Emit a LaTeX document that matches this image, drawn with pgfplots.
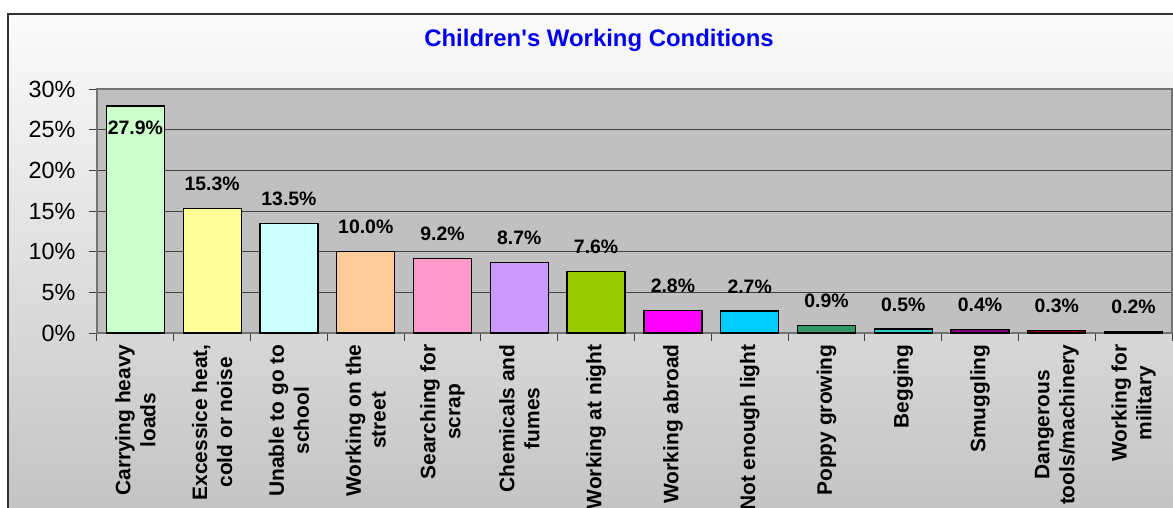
\documentclass[border=0pt]{standalone}
\usepackage{fontspec}
\setmainfont{Liberation Sans}
\usepackage{pgfplots}
\pgfplotsset{compat=1.18}
\definecolor{c1}{HTML}{CCFFCC}
\definecolor{c2}{HTML}{FFFF99}
\definecolor{c3}{HTML}{CCFFFF}
\definecolor{c4}{HTML}{FFCC99}
\definecolor{c5}{HTML}{FF99CC}
\definecolor{c6}{HTML}{CC99FF}
\definecolor{c7}{HTML}{99CC00}
\definecolor{c8}{HTML}{FF00FF}
\definecolor{c9}{HTML}{00CCFF}
\definecolor{c10}{HTML}{339966}
\definecolor{c11}{HTML}{33CCCC}
\definecolor{c12}{HTML}{800080}
\definecolor{c13}{HTML}{800000}
\definecolor{c14}{HTML}{008080}
\definecolor{bgtop}{HTML}{FBFBFB}
\definecolor{bgbot}{HTML}{C0C0C0}
\definecolor{plotbg}{HTML}{C0C0C0}
\definecolor{titleblue}{HTML}{0000F0}
\pgfplotsset{
  lab/.style={nodes near coords style={yshift=#1}},
  bb/.style={fill=#1, draw=black, line width=1.3bp},
}
\begin{document}
\begin{tikzpicture}
\path[use as bounding box] (-97bp,-175bp) rectangle (1076bp,333bp);
\clip (-97bp,-175bp) rectangle (1076bp,333bp);
\shade[top color=bgtop, bottom color=bgbot] (-89bp,319bp) rectangle (1110bp,-210bp);
\draw[black!80, line width=2bp] (-89bp,-210bp) -- (-89bp,319bp) -- (1110bp,319bp);
\node[font=\fontsize{24}{28}\selectfont\bfseries, text=titleblue] at (502bp,293bp) {Children\textquotesingle s Working Conditions};
\begin{axis}[
  at={(0bp,0bp)}, anchor=south west,
  scale only axis, width=1075bp, height=244bp,
  ybar, bar width=58bp, bar shift=0pt,
  xmin=0, xmax=14, ymin=0, ymax=30, enlargelimits=false,
  xtick={0,1,...,14}, x tick label as interval,
  xticklabels={{Carrying heavy\\loads},{Excessice heat,\\cold or noise},{Unable to go to\\school},{Working on the\\street},{Searching for\\scrap},{Chemicals and\\fumes},{Working at night},{Working abroad},{Not enough light},{Poppy growing},{Begging},{Smuggling},{Dangerous\\tools/machinery},{Working for\\military}},
  ytick={0,5,...,30}, yticklabel={\pgfmathprintnumber{\tick}\%},
  /pgf/number format/assume math mode=true,
  ymajorgrids, grid style={draw=black!75, line width=1bp},
  axis background/.style={fill=plotbg},
  axis line style={draw=black!55, line width=1.2bp},
  tick align=outside, major tick length=8bp, tick pos=left,
  tick style={draw=black!75, line width=1bp},
  y tick label style={font=\fontsize{23.5}{27}\selectfont, xshift=-10bp},
  x tick label style={font=\fontsize{21}{25}\selectfont\bfseries, rotate=90, anchor=east, align=center},
  nodes near coords={\pgfmathprintnumber[fixed,fixed zerofill,precision=1]{\pgfplotspointmeta}\%},
  nodes near coords style={font=\fontsize{19.5}{23}\selectfont\bfseries, anchor=south, inner sep=0pt},
  clip=false,
]
\addplot[bb=c1, lab=-29bp] coordinates {(0.5,27.9)};
\addplot[bb=c2, lab=17bp] coordinates {(1.5,15.3)};
\addplot[bb=c3, lab=17bp] coordinates {(2.5,13.5)};
\addplot[bb=c4, lab=17bp] coordinates {(3.5,10.0)};
\addplot[bb=c5, lab=17bp] coordinates {(4.5,9.2)};
\addplot[bb=c6, lab=17bp] coordinates {(5.5,8.7)};
\addplot[bb=c7, lab=17bp] coordinates {(6.5,7.6)};
\addplot[bb=c8, lab=17bp] coordinates {(7.5,2.8)};
\addplot[bb=c9, lab=17bp] coordinates {(8.5,2.7)};
\addplot[bb=c10, lab=17bp] coordinates {(9.5,0.9)};
\addplot[bb=c11, lab=17bp] coordinates {(10.5,0.5)};
\addplot[bb=c12, lab=17bp] coordinates {(11.5,0.4)};
\addplot[bb=c13, lab=17bp] coordinates {(12.5,0.3)};
\addplot[bb=c14, lab=17bp] coordinates {(13.5,0.2)};
\end{axis}
\end{tikzpicture}
\end{document}
